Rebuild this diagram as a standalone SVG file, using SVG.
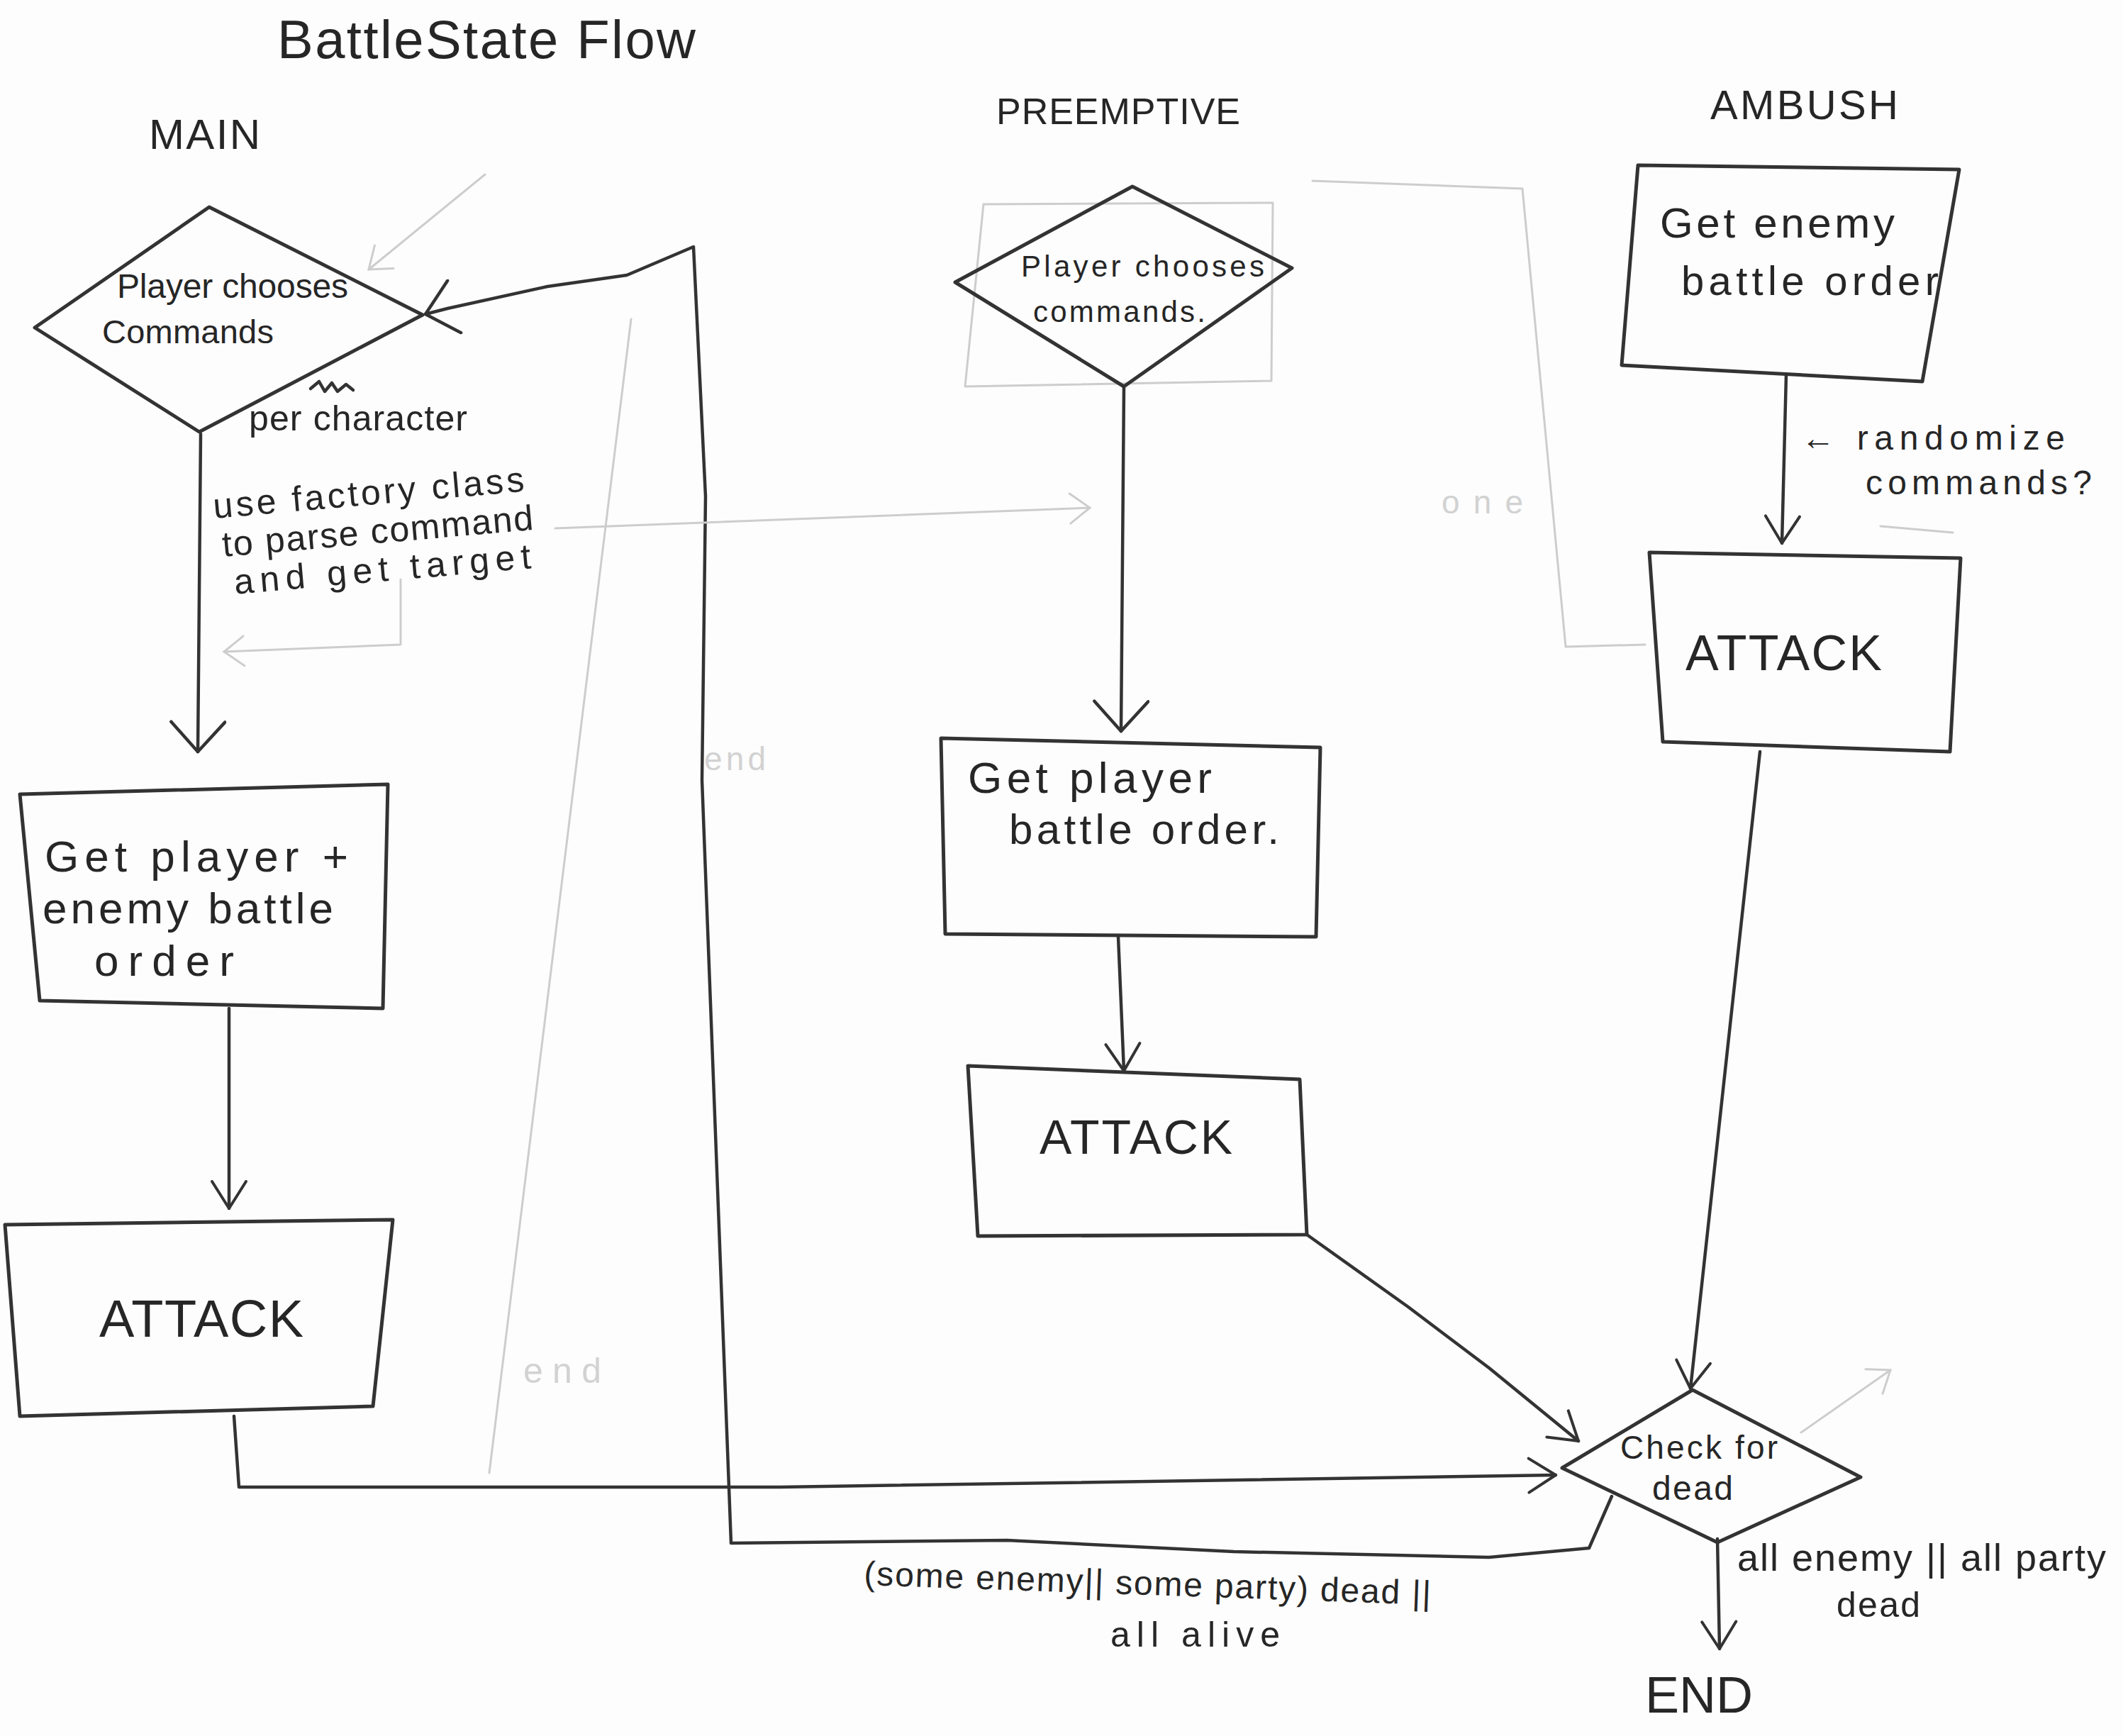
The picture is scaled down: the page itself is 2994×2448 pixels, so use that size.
<svg xmlns="http://www.w3.org/2000/svg" width="2994" height="2448" viewBox="0 0 2994 2448">
<defs>
<style>
.ln{fill:none;stroke:#333;stroke-width:4.5;stroke-linecap:round;stroke-linejoin:round}
.sh{fill:none;stroke:#333;stroke-width:5;stroke-linejoin:round}
.fa{fill:none;stroke:#cdcdcd;stroke-width:3;stroke-linecap:round;stroke-linejoin:round}
.t{font-family:"Liberation Sans",Arial,sans-serif;fill:#262626}
.ft{font-family:"Liberation Sans",Arial,sans-serif;fill:#d2d2d2}
</style>
<marker id="ah" viewBox="0 0 60 80" refX="56" refY="40" markerWidth="60" markerHeight="80" markerUnits="userSpaceOnUse" orient="auto">
<path d="M14,2 L56,40 L14,78" fill="none" stroke="#333" stroke-width="4.5" stroke-linecap="round" stroke-linejoin="round"/>
</marker>
<marker id="ahs" viewBox="0 0 50 56" refX="46" refY="28" markerWidth="50" markerHeight="56" markerUnits="userSpaceOnUse" orient="auto">
<path d="M8,4 L46,28 L8,52" fill="none" stroke="#333" stroke-width="4" stroke-linecap="round" stroke-linejoin="round"/>
</marker>
<marker id="ahf" viewBox="0 0 40 50" refX="36" refY="25" markerWidth="40" markerHeight="50" markerUnits="userSpaceOnUse" orient="auto">
<path d="M8,4 L36,25 L8,46" fill="none" stroke="#cdcdcd" stroke-width="3" stroke-linecap="round"/>
</marker>
</defs>
<rect x="0" y="0" width="2994" height="2448" fill="#fdfdfd"/>

<g id="faint">
<polygon class="fa" points="1387,288 1795,286 1793,537 1361,545"/>
<polyline class="fa" points="1851,255 2147,266 2208,912 2320,909"/>
<path class="fa" d="M890,450 L690,2077"/>
<text class="ft" x="738" y="1950" font-size="50" textLength="110">end</text>
<text class="ft" x="993" y="1086" font-size="46" textLength="87">end</text>
<text class="ft" x="2033" y="724" font-size="46" textLength="115">one</text>
<path class="fa" d="M2652,742 L2754,751"/>
</g>

<g id="title">
<text class="t" x="391" y="82" font-size="76" textLength="590" lengthAdjust="spacing">BattleState Flow</text>
<text class="t" x="210" y="210" font-size="60" textLength="157">MAIN</text>
<text class="t" x="1405" y="175" font-size="52" textLength="344">PREEMPTIVE</text>
<text class="t" x="2412" y="168" font-size="58" textLength="265">AMBUSH</text>
</g>

<g id="connectors">
<polyline class="ln" marker-end="url(#ah)" points="2273,2110 2241,2183 2100,2196 1740,2188 1420,2172 1031,2176 990,1100 995,700 978,348 884,388 772,404 631,435 600,443"/>
<path class="ln" marker-end="url(#ah)" d="M283,612 L279,1060"/>
<path class="ln" marker-end="url(#ahs)" d="M323,1422 L323,1704"/>
<polyline class="ln" marker-end="url(#ahs)" points="330,1997 337,2097 1100,2097 2194,2080"/>
<path class="ln" marker-end="url(#ah)" d="M1585,546 L1581,1031"/>
<path class="ln" marker-end="url(#ahs)" d="M1577,1321 L1585,1510"/>
<polyline class="ln" marker-end="url(#ahs)" points="1843,1741 1986,1843 2100,1929 2226,2032"/>
<path class="ln" marker-end="url(#ahs)" d="M2519,528 L2513,766"/>
<path class="ln" marker-end="url(#ahs)" d="M2482,1060 L2384,1958"/>
<path class="ln" marker-end="url(#ahs)" d="M2422,2170 L2425,2325"/>
<path class="fa" marker-end="url(#ahf)" d="M783,745 L1537,716"/>
<polyline class="fa" marker-end="url(#ahf)" points="565,817 565,909 316,919"/>
<path class="fa" marker-end="url(#ahf)" d="M684,246 L520,380"/>
<path class="fa" marker-end="url(#ahf)" d="M2540,2020 L2666,1932"/>
</g>

<g id="main-choose">
<polygon class="sh" points="295,292 596,444 281,609 49,462"/>
<text class="t" x="165" y="420" font-size="48" textLength="326">Player chooses</text>
<text class="t" x="144" y="484" font-size="47" textLength="242">Commands</text>
<path class="ln" d="M438,548 l12,-10 l8,14 l10,-12 l8,12 l12,-10 l10,8" stroke-width="3"/>
<text class="t" x="351" y="607" font-size="50" textLength="308">per character</text>
<g transform="rotate(-5 302 731)">
<text class="t" x="302" y="731" font-size="50" textLength="440">use factory class</text>
<text class="t" x="310" y="786" font-size="50" textLength="440">to parse command</text>
<text class="t" x="322" y="840" font-size="50" textLength="420">and get target</text>
</g>
</g>

<g id="main-order">
<polygon class="sh" points="28,1120 547,1106 540,1422 56,1411"/>
<text class="t" x="63" y="1229" font-size="62" textLength="428">Get player +</text>
<text class="t" x="60" y="1302" font-size="62" textLength="410">enemy battle</text>
<text class="t" x="133" y="1376" font-size="62" textLength="197">order</text>
</g>

<g id="main-attack">
<polygon class="sh" points="7,1727 554,1720 526,1983 28,1997"/>
<text class="t" x="140" y="1885" font-size="74" textLength="288">ATTACK</text>
</g>

<g id="pre-choose">
<polygon class="sh" points="1597,263 1822,378 1585,545 1347,398"/>
<text class="t" x="1440" y="390" font-size="42" textLength="343">Player chooses</text>
<text class="t" x="1457" y="454" font-size="42" textLength="243">commands.</text>
</g>

<g id="pre-order">
<polygon class="sh" points="1327,1041 1862,1054 1856,1321 1333,1317"/>
<text class="t" x="1365" y="1118" font-size="62" textLength="344">Get player</text>
<text class="t" x="1423" y="1190" font-size="60" textLength="381">battle order.</text>
</g>

<g id="pre-attack">
<polygon class="sh" points="1365,1503 1833,1522 1843,1741 1379,1743"/>
<text class="t" x="1466" y="1627" font-size="68" textLength="272">ATTACK</text>
</g>

<g id="amb-order">
<polygon class="sh" points="2310,233 2763,239 2711,538 2287,515"/>
<text class="t" x="2341" y="335" font-size="60" textLength="331">Get enemy</text>
<text class="t" x="2371" y="416" font-size="58" textLength="363">battle order</text>
<text class="t" x="2540" y="634" font-size="48" textLength="372">← randomize</text>
<text class="t" x="2631" y="697" font-size="48" textLength="319">commands?</text>
</g>

<g id="amb-attack">
<polygon class="sh" points="2326,779 2765,787 2750,1060 2345,1046"/>
<text class="t" x="2377" y="945" font-size="70" textLength="277">ATTACK</text>
</g>

<g id="check-dead">
<polygon class="sh" points="2387,1960 2624,2083 2422,2175 2203,2070"/>
<text class="t" x="2285" y="2057" font-size="46" textLength="222">Check for</text>
<text class="t" x="2330" y="2115" font-size="48" textLength="114">dead</text>
<text class="t" x="1218" y="2235" font-size="48" textLength="800" transform="rotate(2 1218 2235)">(some enemy|| some party) dead ||</text>
<text class="t" x="1566" y="2322" font-size="50" textLength="239">all alive</text>
<text class="t" x="2450" y="2215" font-size="54" textLength="520">all enemy || all party</text>
<text class="t" x="2590" y="2280" font-size="50" textLength="118">dead</text>
</g>

<g id="end">
<text class="t" x="2320" y="2415" font-size="72" textLength="152">END</text>
</g>
</svg>
